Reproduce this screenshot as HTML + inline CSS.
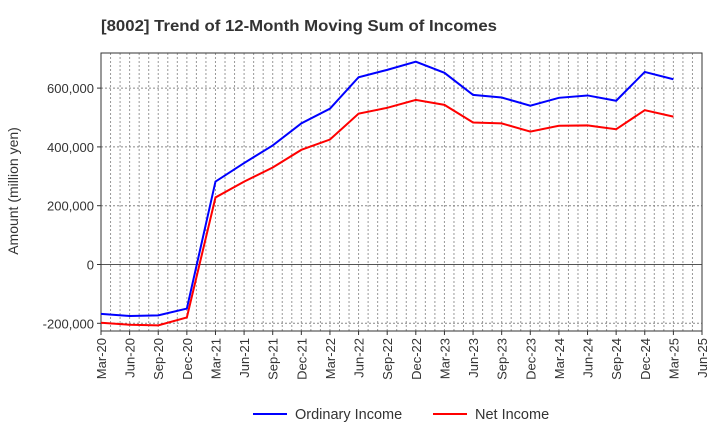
<!DOCTYPE html>
<html><head><meta charset="utf-8"><style>
body{margin:0;background:#fff;}
svg{font-family:"Liberation Sans",Arial,sans-serif;}
</style></head><body>
<svg id="chart" width="720" height="440" viewBox="0 0 720 440" xmlns="http://www.w3.org/2000/svg">
<text x="101" y="31" font-size="16" font-weight="bold" fill="#333" textLength="396" lengthAdjust="spacingAndGlyphs">[8002]  Trend of 12-Month Moving Sum of Incomes</text>
<g id="grid"></g>
<g id="axes"></g>
<g id="series"></g>
<text transform="translate(18,191) rotate(-90)" text-anchor="middle" font-size="14" fill="#333">Amount (million yen)</text>
<g>
<g><line x1="253" y1="414" x2="287" y2="414" stroke="#0000ff" stroke-width="2"/><text x="295" y="419" font-size="14.5" fill="#333">Ordinary Income</text></g>
<g><line x1="433" y1="414" x2="467" y2="414" stroke="#ff0000" stroke-width="2"/><text x="475" y="419" font-size="14.5" fill="#333">Net Income</text></g>
</g>
</svg>
<script>
const xLabels=["Mar-20","Jun-20","Sep-20","Dec-20","Mar-21","Jun-21","Sep-21","Dec-21","Mar-22","Jun-22","Sep-22","Dec-22","Mar-23","Jun-23","Sep-23","Dec-23","Mar-24","Jun-24","Sep-24","Dec-24","Mar-25","Jun-25"];
const yTicks=[-200000,0,200000,400000,600000];
const yTickLabels=["-200,000","0","200,000","400,000","600,000"];
const ordinaryIncome=[-168000,-175000,-173000,-150000,282000,345000,405000,480000,530000,637000,662000,690000,652000,577000,568000,540000,567000,575000,557000,655000,630000];
const netIncome=[-198000,-205000,-207000,-180000,228000,282000,330000,390000,425000,513000,533000,560000,543000,483000,480000,452000,472000,473000,460000,525000,503000];
const L=101,R=702,T=53,B=331;
const NS="http://www.w3.org/2000/svg";
function xs(i){return L+(R-L)*i/(xLabels.length-1);}
function ys(v){return 264.5-v*(58.8/200000);}
function mk(tag,attrs,parent){const e=document.createElementNS(NS,tag);for(const k in attrs)e.setAttribute(k,attrs[k]);parent.appendChild(e);return e;}
const grid=document.getElementById('grid'),axes=document.getElementById('axes'),series=document.getElementById('series');
const months=(xLabels.length-1)*3;
for(let m=1;m<months;m++){const x=L+(R-L)*m/months;
 const g=mk('line',{x1:x,x2:x,y1:T,y2:B,stroke:'#999','stroke-width':1,'stroke-dasharray':'2,2'},grid);
 
 }
yTicks.forEach((v,i)=>{const y=ys(v);
 const g=mk('line',{x1:L,x2:R,y1:y,y2:y,stroke:v===0?'#555':'#888','stroke-width':1,'stroke-dasharray':v===0?'':'2,2'},grid);
 
 
 const t=mk('text',{x:L-7,y:y+5,'text-anchor':'end','font-size':13,fill:'#333'},axes);t.textContent=yTickLabels[i];
 
 
 mk('line',{x1:L-4,x2:L,y1:y,y2:y,stroke:'#333'},axes);});
xLabels.forEach((lab,i)=>{const x=xs(i);
 mk('line',{x1:x,x2:x,y1:B,y2:B+4,stroke:'#333'},axes);
 const t=mk('text',{x:0,y:0,'text-anchor':'end','font-size':13,fill:'#333',transform:`translate(${x+5},${B+7}) rotate(-90)`},axes);t.textContent=lab;
 
 });
const frame=mk('rect',{x:L,y:T,width:R-L,height:B-T,fill:'none',stroke:'#333','stroke-width':1},axes);


function line(vals,color,name){const p=mk('polyline',{points:vals.map((v,i)=>xs(i)+','+ys(v)).join(' '),fill:'none',stroke:color,'stroke-width':2},series);
 
 }
line(ordinaryIncome,'#0000ff','ordinary-income-line');
line(netIncome,'#ff0000','net-income-line');
</script>
</body></html>
